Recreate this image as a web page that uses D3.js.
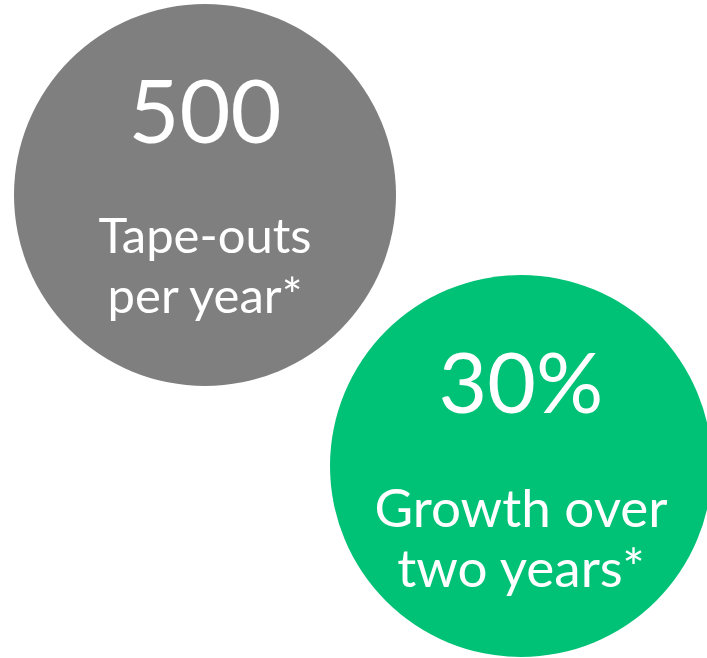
<!DOCTYPE html>
<html>
<head>
<meta charset="utf-8">
<script src="https://cdn.jsdelivr.net/npm/d3@7"></script>
<style>
  html, body { margin: 0; padding: 0; background: #fff; }
  svg { display: block; }
</style>
</head>
<body>
<script>
const width  = 707;
const height = 658;

// the two stat bubbles
const statValues = ['500', '30%'];
const statLines  = [['Tape-outs', 'per year*'], ['Growth over', 'two years*']];
const statColors = ['#7f7f7f', '#00c276'];

// bubble layout (centre + radius)
const centers = [[205, 195], [521, 466]];
const radius  = 191;

const fontFamily = "'Gill Sans', 'Gill Sans MT', Lato, 'Open Sans', sans-serif";

const bubbles = statValues.map((v, i) => ({
  value: v,
  lines: statLines[i],
  color: statColors[i],
  cx: centers[i][0],
  cy: centers[i][1]
}));

const svg = d3.select('body').append('svg')
      .attr('width', width)
      .attr('height', height);

const g = svg.selectAll('.bubble')
      .data(bubbles)
      .enter().append('g')
      .attr('class', 'bubble')
      .attr('transform', d => 'translate(' + d.cx + ',' + d.cy + ')');

g.append('circle')
  .attr('r', radius)
  .style('fill', d => d.color);

// big number
g.append('text')
  .attr('y', (d, i) => i === 0 ? -52 : -53)
  .style('text-anchor', 'middle')
  .style('font-family', fontFamily)
  .style('font-size', (d, i) => i === 0 ? '88px' : '84px')
  .style('fill', '#fff')
  .text(d => d.value);

// caption lines
g.each(function(d, i) {
  const base = i === 0 ? 58 : 61;
  d3.select(this).selectAll('.cap')
    .data(d.lines)
    .enter().append('text')
    .attr('class', 'cap')
    .attr('y', (t, k) => base + k * 60)
    .style('text-anchor', 'middle')
    .style('font-family', fontFamily)
    .style('font-size', i === 0 ? '49px' : '53px')
    .style('fill', '#fff')
    .text(t => t);
});
</script>
</body>
</html>
